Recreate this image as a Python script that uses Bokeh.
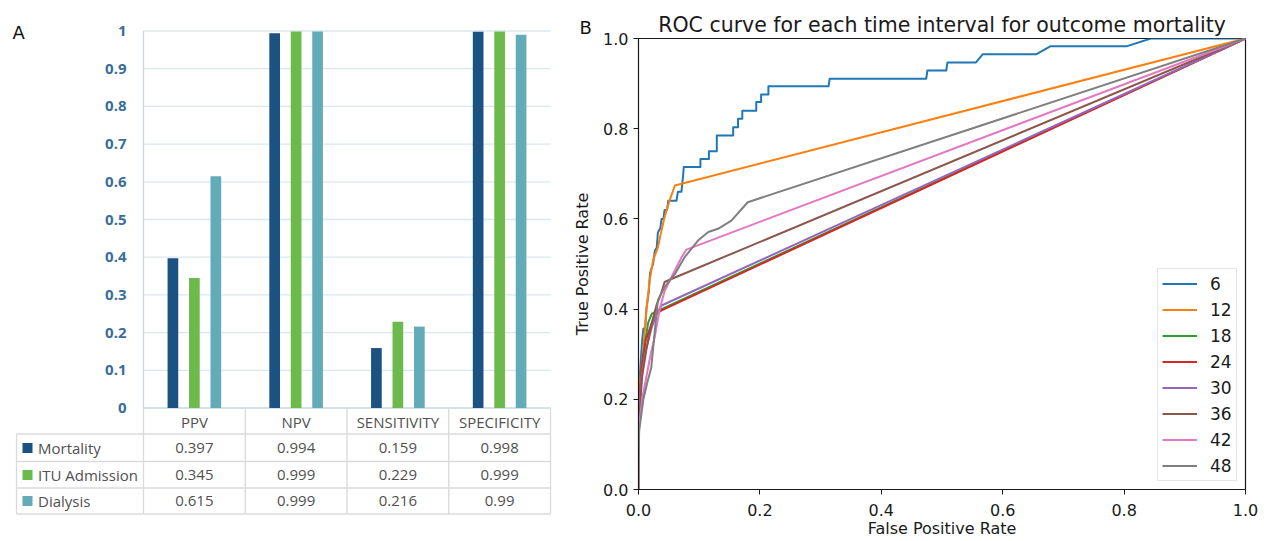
import math
from bokeh.plotting import figure
from bokeh.layouts import row, column
from bokeh.models import Range1d, FixedTicker, PrintfTickFormatter
from bokeh.core.properties import value
from bokeh.embed import file_html
from bokeh.resources import INLINE

# ---------------- Panel A data ----------------
metrics = ["PPV", "NPV", "SENSITIVITY", "SPECIFICITY"]
outcomes = ["Mortality", "ITU Admission", "Dialysis"]
mortality = [0.397, 0.994, 0.159, 0.998]
itu_admission = [0.345, 0.999, 0.229, 0.999]
dialysis = [0.615, 0.999, 0.216, 0.99]
table_text = [["0.397", "0.994", "0.159", "0.998"],
              ["0.345", "0.999", "0.229", "0.999"],
              ["0.615", "0.999", "0.216", "0.99"]]
a_ticks = [0, 0.1, 0.2, 0.3, 0.4, 0.5, 0.6, 0.7, 0.8, 0.9, 1]
a_tick_labels = ["0", "0.1", "0.2", "0.3", "0.4", "0.5", "0.6", "0.7", "0.8", "0.9", "1"]

# ---------------- Panel B data ----------------
roc_labels = ["6", "12", "18", "24", "30", "36", "42", "48"]
fpr_6 = [0.0, 0.0, 0.003, 0.006, 0.008, 0.011, 0.013, 0.017, 0.019, 0.024, 0.027, 0.030, 0.032,
         0.036, 0.038, 0.041, 0.043, 0.047, 0.049, 0.0625, 0.065, 0.0707, 0.0735, 0.0745, 0.102,
         0.102, 0.116, 0.116, 0.129, 0.129, 0.156, 0.156, 0.164, 0.164, 0.171, 0.171, 0.194, 0.194,
         0.202, 0.202, 0.214, 0.214, 0.313, 0.315, 0.474, 0.476, 0.507, 0.509, 0.556, 0.567, 0.655,
         0.679, 0.805, 0.844, 1.0]
tpr_6 = [0.0, 0.19, 0.27, 0.33, 0.357, 0.357, 0.40, 0.44, 0.48, 0.50, 0.53, 0.536, 0.57, 0.58,
         0.60, 0.60, 0.62, 0.62, 0.64, 0.64, 0.66, 0.66, 0.696, 0.715, 0.715, 0.733, 0.733, 0.75,
         0.75, 0.785, 0.785, 0.803, 0.803, 0.822, 0.822, 0.84, 0.84, 0.859, 0.859, 0.876, 0.876,
         0.894, 0.894, 0.911, 0.911, 0.929, 0.929, 0.947, 0.947, 0.965, 0.965, 0.983, 0.983, 1.0, 1.0]
fpr_12 = [0.0, 0.0, 0.002, 0.005, 0.009, 0.013, 0.018, 0.024, 0.032, 0.038, 0.043, 0.051, 0.06, 1.0]
tpr_12 = [0.0, 0.20, 0.234, 0.27, 0.33, 0.397, 0.46, 0.508, 0.537, 0.575, 0.604, 0.64, 0.674, 1.0]
fpr_18 = [0.0, 0.001, 0.004, 0.010, 0.016, 0.022, 1.0]
tpr_18 = [0.0, 0.17, 0.26, 0.32, 0.37, 0.39, 1.0]
fpr_24 = [0.0, 0.001, 0.005, 0.012, 0.022, 0.030, 0.038, 1.0]
tpr_24 = [0.0, 0.18, 0.27, 0.33, 0.37, 0.39, 0.397, 1.0]
fpr_30 = [0.0, 0.001, 0.005, 0.012, 0.022, 0.030, 0.038, 1.0]
tpr_30 = [0.0, 0.16, 0.25, 0.31, 0.36, 0.39, 0.408, 1.0]
fpr_36 = [0.0, 0.001, 0.006, 0.013, 0.022, 0.030, 0.037, 0.043, 0.06, 1.0]
tpr_36 = [0.0, 0.15, 0.25, 0.31, 0.37, 0.41, 0.434, 0.46, 0.47, 1.0]
fpr_42 = [0.0, 0.001, 0.006, 0.013, 0.020, 0.027, 0.035, 0.043, 0.054, 0.071, 0.079, 1.0]
tpr_42 = [0.0, 0.14, 0.20, 0.25, 0.30, 0.34, 0.40, 0.44, 0.47, 0.515, 0.532, 1.0]
fpr_48 = [0.0, 0.001, 0.008, 0.015, 0.021, 0.026, 0.032, 0.043, 0.06, 0.076, 0.098, 0.115,
          0.131, 0.153, 0.18, 1.0]
tpr_48 = [0.0, 0.13, 0.20, 0.24, 0.27, 0.34, 0.42, 0.449, 0.478, 0.515, 0.552, 0.571, 0.578,
          0.596, 0.637, 1.0]
roc_fpr = [fpr_6, fpr_12, fpr_18, fpr_24, fpr_30, fpr_36, fpr_42, fpr_48]
roc_tpr = [tpr_6, tpr_12, tpr_18, tpr_24, tpr_30, tpr_36, tpr_42, tpr_48]
b_ticks = [0.0, 0.2, 0.4, 0.6, 0.8, 1.0]

# ---------------- styles ----------------
bar_colors = ["#1c5282", "#6cb94c", "#62abb7"]
roc_colors = ["#1f77b4", "#ff7f0e", "#2ca02c", "#d62728", "#9467bd", "#8c564b", "#e377c2", "#7f7f7f"]
grid_col = "#d8e8ee"
axis_col_a = "#c5d7e0"
table_col = "#dadada"
text_col = "#505050"
tick_col_a = "#3a6d99"
dark = "#1a1a1a"

# ---------------- Panel A (one figure: chart + table + panel letters) ----------------
WA, H = 600, 540
CAT_PX = 101.75      # pixels per category
X0_PX = 143.0        # pixel x of category axis start
V_PX = 377.0         # pixels per unit value
Y0_PX = 407.5        # pixel y of value 0


def X(px):
    return (px - X0_PX) / CAT_PX


def Y(py):
    return (Y0_PX - py) / V_PX


pA = figure(width=WA, height=H, x_range=Range1d(X(0), X(WA)), y_range=Range1d(Y(H), Y(0)),
            x_axis_location=None, y_axis_location=None,
            output_backend="svg", toolbar_location=None,
            min_border_left=0, min_border_right=0, min_border_top=0, min_border_bottom=0)
pA.outline_line_color = None
pA.xgrid.visible = False
pA.ygrid.visible = False

ncat = len(metrics)
# value gridlines (from the tick values) and axes
grid_vals = a_ticks[1:]
pA.segment(x0=[0] * len(grid_vals), y0=grid_vals, x1=[ncat] * len(grid_vals), y1=grid_vals,
           line_color=grid_col, line_width=1.3)
pA.segment(x0=[0], y0=[0], x1=[ncat], y1=[0], line_color=axis_col_a, line_width=1.3)
pA.segment(x0=[0], y0=[0], x1=[0], y1=[1], line_color=axis_col_a, line_width=1.3)
pA.text(x=[X(126)] * len(a_ticks), y=a_ticks, text=a_tick_labels, text_align="right",
        text_baseline="middle", text_font=value("Open Sans"), text_font_style="bold",
        text_font_size="15px", text_color=tick_col_a)

# bars
series = [mortality, itu_admission, dialysis]
offsets = [-0.211, 0.0, 0.211]
for vals, off, col in zip(series, offsets, bar_colors):
    xs = [i + 0.5 + off for i in range(ncat)]
    pA.vbar(x=xs, top=vals, bottom=0, width=0.105, fill_color=col, line_color=None)

# data table under the chart
row_lines = [Y(433.5), Y(461.0), Y(487.5), Y(513.5)]
pA.segment(x0=[X(16)] * 4, y0=row_lines, x1=[ncat] * 4, y1=row_lines,
           line_color=table_col, line_width=1.3)
col_edges = list(range(ncat + 1))
pA.segment(x0=col_edges, y0=[0.0] * len(col_edges), x1=col_edges, y1=[Y(513.5)] * len(col_edges),
           line_color=table_col, line_width=1.3)
pA.segment(x0=[X(16)], y0=[Y(433.5)], x1=[X(16)], y1=[Y(513.5)], line_color=table_col,
           line_width=1.3)
centers = [i + 0.5 for i in range(ncat)]
pA.text(x=centers, y=[Y(421.0)] * ncat, text=metrics, text_align="center", text_baseline="middle",
        text_font=value("Open Sans"), text_font_size="15px", text_color=text_col)
row_y = [Y(447.5), Y(474.5), Y(500.5)]
pA.scatter(x=[X(27)] * 3, y=row_y, marker="square", size=10, fill_color=bar_colors,
           line_color=None)
pA.text(x=[X(37.5)] * 3, y=row_y, text=outcomes, text_align="left", text_baseline="middle",
        text_font=value("Open Sans"), text_font_size="15px", text_color=text_col)
for ry, vals in zip(row_y, table_text):
    pA.text(x=centers, y=[ry] * ncat, text=vals, text_align="center", text_baseline="middle",
            text_font=value("Open Sans"), text_font_size="15px", text_color=text_col)

# panel letters and the ROC y-axis title (lies in the gap left of panel B's axis)
pA.text(x=[X(12)], y=[Y(31.7)], text=["A"], text_align="left", text_baseline="alphabetic",
        text_font=value("DejaVu Sans"), text_font_size="18px", text_color="#111111")
pA.text(x=[X(579)], y=[Y(26.5)], text=["B"], text_align="left", text_baseline="alphabetic",
        text_font=value("DejaVu Sans"), text_font_size="18px", text_color="#111111")
pA.text(x=[X(582)], y=[Y(263.5)], text=["True Positive Rate"], angle=math.pi / 2,
        text_align="center", text_baseline="middle",
        text_font=value("DejaVu Sans"), text_font_size="16px", text_color=dark)

# ---------------- Panel B ----------------
pB = figure(width=671, height=H, x_range=Range1d(0, 1), y_range=Range1d(0, 1),
            output_backend="svg", toolbar_location=None,
            min_border_left=37, min_border_right=26, min_border_top=38, min_border_bottom=51,
            title="ROC curve for each time interval for outcome mortality")
pB.title.text_font = "DejaVu Sans"
pB.title.text_font_size = "20.5px"
pB.title.text_font_style = "normal"
pB.title.text_color = dark
pB.title.align = "center"
pB.title.standoff = 4
pB.outline_line_color = dark
pB.outline_line_width = 1.2
pB.xgrid.visible = False
pB.ygrid.visible = False
for ax in (pB.xaxis, pB.yaxis):
    ax.ticker = FixedTicker(ticks=b_ticks)
    ax.formatter = PrintfTickFormatter(format="%.1f")
    ax.major_tick_out = 5
    ax.major_tick_in = 0
    ax.minor_tick_line_color = None
    ax.axis_line_color = dark
    ax.major_tick_line_color = dark
    ax.major_label_text_font = "DejaVu Sans"
    ax.major_label_text_font_size = "16px"
    ax.major_label_text_color = dark
    ax.axis_label_text_font = "DejaVu Sans"
    ax.axis_label_text_font_size = "16px"
    ax.axis_label_text_font_style = "normal"
    ax.axis_label_text_color = dark
pB.xaxis.axis_label = "False Positive Rate"
pB.xaxis.major_label_standoff = 9
pB.xaxis.axis_label_standoff = 0
pB.yaxis.major_label_standoff = 5

for fx, ty, lbl, col in zip(roc_fpr, roc_tpr, roc_labels, roc_colors):
    pB.line(fx, ty, line_width=2, line_color=col, line_join="round", legend_label=lbl)

lg = pB.legend[0]
lg.location = "bottom_right"
lg.margin = 8
lg.padding = 4
lg.spacing = 5
lg.glyph_width = 35
lg.glyph_height = 21
lg.label_height = 21
lg.label_width = 22
lg.label_standoff = 13
lg.label_text_font = "DejaVu Sans"
lg.label_text_font_size = "17px"
lg.label_text_color = dark
lg.border_line_color = "#cccccc"
lg.background_fill_alpha = 0.85

# panel A is nested in its own column so that its frame is not aligned with panel B's
layout = row(column(pA, spacing=0), pB, spacing=0)
open("out.html", "w").write(file_html(layout, INLINE))
